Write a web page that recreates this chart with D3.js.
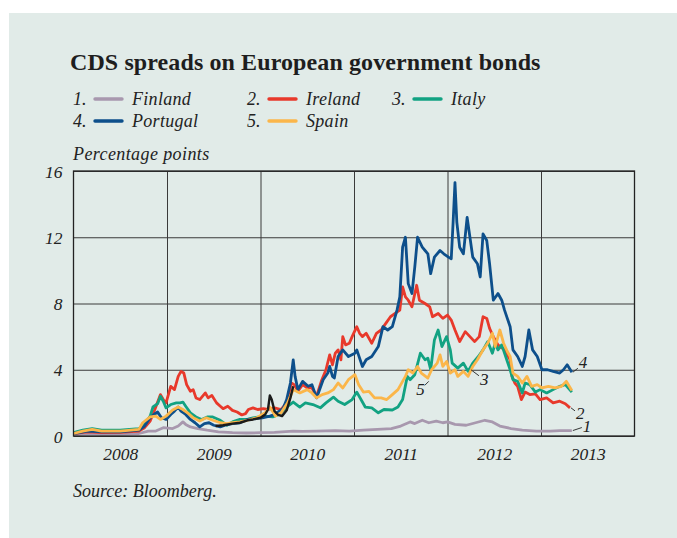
<!DOCTYPE html>
<html><head><meta charset="utf-8">
<script src="https://cdn.jsdelivr.net/npm/d3@7"></script>
<style>
html,body{margin:0;padding:0;background:#fff;}
svg{display:block;}
text{font-family:"Liberation Serif","DejaVu Serif",serif;fill:#222;}
</style></head>
<body>
<svg id="c" width="677" height="538"></svg>
<script>
// ---- data (decimal year, percentage points) ----
const seriesNames = ["Finland", "Ireland", "Italy", "Portugal", "Spain"];
const seriesNumbers = ["1.", "2.", "3.", "4.", "5."];
const seriesColors = ["#a898ae", "#e8392b", "#12a282", "#0d4f8b", "#fbb64a"];
const yTicks = [0, 4, 8, 12, 16];
const yearGrid = [2009, 2010, 2011, 2012, 2013];
const yearLabels = ["2008", "2009", "2010", "2011", "2012", "2013"];

const finland = [[2008.00,0.10],[2008.15,0.15],[2008.30,0.12],[2008.50,0.12],[2008.70,0.15],[2008.80,0.30],[2008.88,0.30],[2008.96,0.50],[2009.06,0.45],[2009.12,0.60],[2009.17,0.85],[2009.20,0.70],[2009.25,0.55],[2009.33,0.45],[2009.43,0.35],[2009.55,0.25],[2009.70,0.20],[2009.85,0.18],[2010.00,0.20],[2010.15,0.22],[2010.35,0.30],[2010.45,0.28],[2010.60,0.30],[2010.80,0.32],[2010.95,0.30],[2011.10,0.35],[2011.25,0.40],[2011.40,0.45],[2011.50,0.60],[2011.60,0.85],[2011.65,0.75],[2011.73,0.95],[2011.80,0.80],[2011.88,0.90],[2011.95,0.80],[2012.00,0.85],[2012.08,0.70],[2012.20,0.65],[2012.30,0.80],[2012.40,0.95],[2012.48,0.85],[2012.56,0.60],[2012.68,0.45],[2012.80,0.35],[2012.95,0.30],[2013.10,0.30],[2013.20,0.32],[2013.33,0.33]];

const ireland = [[2008.00,0.15],[2008.15,0.25],[2008.30,0.20],[2008.50,0.22],[2008.70,0.30],[2008.76,0.50],[2008.82,0.90],[2008.87,1.60],[2008.93,2.50],[2008.96,2.20],[2008.99,2.00],[2009.04,3.00],[2009.08,2.80],[2009.12,3.60],[2009.15,3.90],[2009.18,3.80],[2009.21,3.10],[2009.25,2.70],[2009.28,2.80],[2009.31,2.30],[2009.35,2.20],[2009.41,2.60],[2009.44,2.30],[2009.48,2.45],[2009.53,2.00],[2009.57,1.80],[2009.60,1.65],[2009.65,1.80],[2009.70,1.55],[2009.75,1.45],[2009.80,1.27],[2009.84,1.35],[2009.87,1.60],[2009.92,1.70],[2009.97,1.60],[2010.03,1.65],[2010.08,1.60],[2010.15,1.70],[2010.22,1.60],[2010.28,2.00],[2010.33,3.20],[2010.36,3.10],[2010.40,2.70],[2010.45,3.10],[2010.50,2.90],[2010.55,2.90],[2010.60,2.40],[2010.65,3.30],[2010.70,4.00],[2010.74,4.90],[2010.77,4.30],[2010.80,5.00],[2010.83,5.20],[2010.86,4.60],[2010.88,6.00],[2010.91,5.50],[2010.95,5.60],[2010.98,6.00],[2011.03,6.60],[2011.06,6.20],[2011.09,6.00],[2011.13,6.20],[2011.19,5.60],[2011.24,6.20],[2011.29,6.40],[2011.34,6.80],[2011.39,7.20],[2011.44,7.40],[2011.49,7.60],[2011.52,9.00],[2011.55,8.40],[2011.58,8.20],[2011.62,7.80],[2011.67,9.10],[2011.70,8.20],[2011.76,8.00],[2011.81,7.80],[2011.84,7.20],[2011.90,7.40],[2011.95,7.10],[2012.00,7.30],[2012.04,7.00],[2012.08,6.40],[2012.13,5.70],[2012.19,6.30],[2012.24,6.00],[2012.29,5.70],[2012.34,6.00],[2012.38,7.20],[2012.42,7.10],[2012.45,6.50],[2012.49,6.00],[2012.54,5.50],[2012.61,5.20],[2012.67,4.60],[2012.69,3.60],[2012.72,3.20],[2012.75,3.00],[2012.79,2.20],[2012.83,2.65],[2012.88,2.50],[2012.94,2.55],[2012.99,2.20],[2013.06,2.30],[2013.13,2.00],[2013.20,2.10],[2013.26,1.95],[2013.31,1.70]];

const italy = [[2008.00,0.20],[2008.10,0.35],[2008.20,0.45],[2008.30,0.35],[2008.50,0.35],[2008.70,0.45],[2008.76,0.70],[2008.82,1.20],[2008.85,1.75],[2008.90,1.95],[2008.93,2.40],[2008.96,2.10],[2008.99,1.70],[2009.04,1.90],[2009.10,2.00],[2009.14,2.00],[2009.17,2.05],[2009.20,1.80],[2009.25,1.40],[2009.31,1.15],[2009.37,1.00],[2009.43,1.15],[2009.49,1.15],[2009.57,0.95],[2009.64,0.65],[2009.70,0.85],[2009.78,1.00],[2009.86,1.00],[2009.92,1.10],[2009.99,1.15],[2010.05,1.20],[2010.13,1.15],[2010.20,1.30],[2010.28,1.75],[2010.35,2.05],[2010.42,1.75],[2010.48,2.00],[2010.56,1.90],[2010.64,1.70],[2010.70,2.00],[2010.78,2.35],[2010.83,2.10],[2010.90,1.90],[2010.98,2.20],[2011.03,2.65],[2011.09,2.05],[2011.12,1.75],[2011.19,1.70],[2011.26,1.40],[2011.32,1.60],[2011.41,1.57],[2011.47,1.75],[2011.52,2.20],[2011.57,3.60],[2011.60,3.40],[2011.65,3.70],[2011.71,5.00],[2011.76,4.60],[2011.79,4.70],[2011.82,4.00],[2011.86,5.80],[2011.90,6.40],[2011.94,5.40],[2011.99,6.00],[2012.03,5.20],[2012.05,4.40],[2012.11,4.10],[2012.17,4.40],[2012.22,3.90],[2012.27,4.40],[2012.33,4.80],[2012.38,5.20],[2012.43,5.70],[2012.48,5.00],[2012.51,5.60],[2012.54,5.20],[2012.58,5.50],[2012.64,4.50],[2012.67,4.00],[2012.70,3.40],[2012.75,3.30],[2012.80,2.60],[2012.83,3.20],[2012.88,3.10],[2012.94,2.65],[2012.99,2.80],[2013.06,2.60],[2013.13,2.80],[2013.20,3.00],[2013.26,3.10],[2013.33,2.65]];

const portugal = [[2008.00,0.15],[2008.15,0.30],[2008.30,0.25],[2008.50,0.25],[2008.70,0.35],[2008.76,0.60],[2008.82,1.10],[2008.86,1.30],[2008.90,1.45],[2008.94,1.10],[2008.99,1.00],[2009.04,1.30],[2009.08,1.50],[2009.12,1.75],[2009.15,1.50],[2009.20,1.30],[2009.25,1.00],[2009.30,0.80],[2009.35,0.55],[2009.40,0.75],[2009.45,0.80],[2009.50,0.65],[2009.57,0.55],[2009.62,0.65],[2009.70,0.75],[2009.78,0.80],[2009.86,1.00],[2009.95,1.05],[2010.02,1.10],[2010.10,1.20],[2010.15,1.30],[2010.20,1.50],[2010.24,1.65],[2010.28,2.20],[2010.32,3.20],[2010.35,4.60],[2010.37,3.60],[2010.40,2.80],[2010.45,3.30],[2010.51,3.00],[2010.55,3.10],[2010.60,2.30],[2010.67,3.40],[2010.72,3.80],[2010.74,4.20],[2010.77,3.60],[2010.79,3.50],[2010.83,4.80],[2010.88,5.20],[2010.94,4.80],[2011.01,5.00],[2011.03,5.20],[2011.09,4.20],[2011.13,4.60],[2011.19,4.80],[2011.26,5.40],[2011.31,6.60],[2011.36,6.40],[2011.41,6.60],[2011.46,7.60],[2011.49,8.40],[2011.52,11.40],[2011.55,12.00],[2011.58,9.20],[2011.62,8.60],[2011.65,10.20],[2011.68,12.00],[2011.73,11.40],[2011.76,11.20],[2011.79,11.00],[2011.82,9.80],[2011.86,10.80],[2011.92,11.20],[2011.96,11.00],[2012.01,10.80],[2012.04,10.70],[2012.06,12.90],[2012.08,15.30],[2012.10,12.90],[2012.13,11.40],[2012.17,11.00],[2012.21,13.20],[2012.24,12.00],[2012.27,10.80],[2012.32,10.40],[2012.35,9.60],[2012.38,12.20],[2012.42,11.80],[2012.45,10.40],[2012.49,8.20],[2012.54,8.60],[2012.58,8.20],[2012.61,7.60],[2012.67,6.60],[2012.70,5.20],[2012.75,4.80],[2012.80,4.20],[2012.83,4.80],[2012.87,6.40],[2012.91,5.20],[2012.96,4.80],[2013.01,4.00],[2013.07,4.00],[2013.13,3.90],[2013.20,3.80],[2013.24,4.00],[2013.28,4.30],[2013.33,3.85]];

const spain = [[2008.00,0.15],[2008.10,0.30],[2008.20,0.40],[2008.30,0.30],[2008.50,0.30],[2008.70,0.40],[2008.74,0.80],[2008.82,1.15],[2008.88,1.20],[2008.93,1.00],[2008.99,1.20],[2009.06,1.57],[2009.12,1.75],[2009.17,1.60],[2009.22,1.40],[2009.28,1.10],[2009.35,0.90],[2009.42,1.10],[2009.49,0.95],[2009.57,0.80],[2009.64,0.75],[2009.70,0.80],[2009.78,0.85],[2009.86,0.95],[2009.96,1.10],[2010.05,1.40],[2010.10,1.75],[2010.16,1.20],[2010.22,1.40],[2010.29,2.00],[2010.35,2.80],[2010.42,2.60],[2010.50,2.80],[2010.55,2.60],[2010.60,2.30],[2010.66,2.50],[2010.72,2.60],[2010.78,2.80],[2010.83,3.20],[2010.88,2.90],[2010.94,3.40],[2011.01,3.70],[2011.05,3.10],[2011.10,2.65],[2011.16,2.70],[2011.22,2.30],[2011.29,2.30],[2011.35,2.20],[2011.41,2.50],[2011.47,2.80],[2011.55,3.60],[2011.58,4.00],[2011.63,3.80],[2011.68,4.20],[2011.72,3.80],[2011.79,3.50],[2011.83,4.00],[2011.89,4.40],[2011.92,4.90],[2011.95,4.20],[2011.99,4.50],[2012.03,3.80],[2012.08,4.00],[2012.11,3.60],[2012.17,3.90],[2012.22,3.60],[2012.27,4.20],[2012.32,4.60],[2012.38,5.20],[2012.43,5.60],[2012.48,6.20],[2012.51,5.40],[2012.56,6.40],[2012.60,5.60],[2012.64,5.10],[2012.67,4.80],[2012.70,3.80],[2012.75,3.60],[2012.80,3.20],[2012.85,3.60],[2012.90,3.00],[2012.96,3.10],[2013.01,2.90],[2013.08,3.00],[2013.15,2.90],[2013.22,3.00],[2013.27,3.30],[2013.33,2.75]];

const blackLine = [[2009.52,0.60],[2009.60,0.65],[2009.70,0.75],[2009.78,0.80],[2009.86,0.95],[2009.92,1.00],[2010.00,1.10],[2010.05,1.30],[2010.08,1.60],[2010.10,2.45],[2010.12,2.20],[2010.15,1.50],[2010.19,1.27],[2010.23,1.20],[2010.28,1.55],[2010.32,2.30],[2010.35,3.00]];

// end-of-line callouts: [label, anchor t, anchor v]
const callouts = [["1",2013.33,0.33],["2",2013.31,1.70],["3",2012.24,4.0],["4",2013.33,3.85],["5",2011.81,3.3]];

// ---- layout ----
const svg = d3.select("#c");
const W = 677, H = 538;
const m = {left:73.5, right:634.5, top:171, bottom:436};
svg.append("rect").attr("x",9).attr("y",13).attr("width",W-9).attr("height",H-13).attr("fill","#e1ebe8");

const x = d3.scaleLinear().domain([2008, 2014]).range([m.left, m.right]);
const y = d3.scaleLinear().domain([0, 16]).range([m.bottom, m.top]);

// title
svg.append("text").attr("x",70).attr("y",70).attr("font-size",24).attr("font-weight","bold")
  .attr("letter-spacing",0.1).style("fill","#1e1e1e").text("CDS spreads on European government bonds");

// legend
const legCols = [73, 247, 392];
const legRows = [105, 127];
seriesNames.forEach((n,i)=>{
  const col = i<3 ? i : i-3, row = i<3 ? 0 : 1;
  const lx = legCols[col], ly = legRows[row];
  const g = svg.append("g").attr("transform",`translate(${lx},${ly})`);
  g.append("text").attr("x",0).attr("y",0).attr("font-size",18).attr("font-style","italic").text(seriesNumbers[i]);
  g.append("line").attr("x1",22).attr("x2",49).attr("y1",-6).attr("y2",-6)
    .attr("stroke",seriesColors[i]).attr("stroke-width",3.4).attr("stroke-linecap","round");
  g.append("text").attr("x",59).attr("y",0).attr("font-size",18).attr("font-style","italic")
    .attr("letter-spacing",0.3).text(n);
});

svg.append("text").attr("x",73).attr("y",160).attr("font-size",18).attr("font-style","italic")
  .attr("letter-spacing",0.4).text("Percentage points");

// grid
const gy = svg.append("g").attr("transform",`translate(${m.left},0)`)
  .call(d3.axisLeft(y).tickValues(yTicks).tickSize(-(m.right-m.left)).tickFormat(""));
gy.select(".domain").remove();
gy.selectAll("line").attr("stroke","#3a3a3a").attr("stroke-width",1);

const gx = svg.append("g").attr("transform",`translate(0,${m.bottom})`)
  .call(d3.axisBottom(x).tickValues(yearGrid).tickSize(-(m.bottom-m.top)).tickFormat(""));
gx.select(".domain").remove();
gx.selectAll("line").attr("stroke","#3a3a3a").attr("stroke-width",1);

// y labels
const yl = svg.append("g").attr("transform",`translate(${m.left-11},0)`)
  .call(d3.axisLeft(y).tickValues(yTicks).tickSize(0).tickPadding(0));
yl.select(".domain").remove();
yl.selectAll("text").attr("font-size",17.5).attr("font-style","italic").style("font-family","'Liberation Serif',serif").attr("fill","#222").attr("dy","0.35em");

// x labels
const xl = svg.append("g").attr("transform",`translate(0,${m.bottom+8})`)
  .call(d3.axisBottom(x).tickValues(yearLabels.map(s=>+s+0.5)).tickSize(0).tickPadding(0).tickFormat((d,i)=>yearLabels[i]));
xl.select(".domain").remove();
xl.selectAll("text").attr("font-size",17.5).attr("font-style","italic").style("font-family","'Liberation Serif',serif").attr("fill","#222").attr("dy","0.9em");

// lines
const line = d3.line().x(d=>x(d[0])).y(d=>y(d[1]));
svg.append("clipPath").attr("id","pc").append("rect")
  .attr("x",m.left).attr("y",m.top).attr("width",m.right-m.left).attr("height",m.bottom-m.top);
const lg = svg.append("g").attr("clip-path","url(#pc)");
const allSeries = [finland, ireland, italy, portugal, spain];
allSeries.forEach((s,i)=>{
  lg.append("path").datum(s).attr("d",line).attr("fill","none")
    .attr("stroke",seriesColors[i]).attr("stroke-width",2.8).attr("stroke-linejoin","round");
});
lg.append("path").datum(blackLine).attr("d",line).attr("fill","none")
  .attr("stroke","#1b1b1b").attr("stroke-width",2.4).attr("stroke-linejoin","round");

// frame
svg.append("rect").attr("x",m.left).attr("y",m.top).attr("width",m.right-m.left).attr("height",m.bottom-m.top)
  .attr("fill","none").attr("stroke","#222").attr("stroke-width",1.3);

// callouts: [line dx, line dy, text dx, text dy(center)]
const calloutOffsets = {"1":[10,-3,11,-4],"2":[5,3,6,5],"3":[9,6,10,9],"4":[6,-4,7,-10],"5":[-5,4,-5,8]};
callouts.forEach(([lab,t,v])=>{
  const ax = x(t), ay = y(v);
  const o = calloutOffsets[lab];
  svg.append("line").attr("x1",ax+(o[0]<0?-1:1)).attr("y1",ay).attr("x2",ax+o[0]).attr("y2",ay+o[1])
    .attr("stroke","#222").attr("stroke-width",0.9);
  svg.append("text").attr("x",ax+o[2]).attr("y",ay+o[3]).attr("font-size",17).attr("font-style","italic")
    .attr("text-anchor", o[2]<0?"end":"start").attr("dy","0.35em").text(lab);
});

// source
svg.append("text").attr("x",73).attr("y",497).attr("font-size",18).attr("font-style","italic").text("Source: Bloomberg.");
</script>
</body></html>
